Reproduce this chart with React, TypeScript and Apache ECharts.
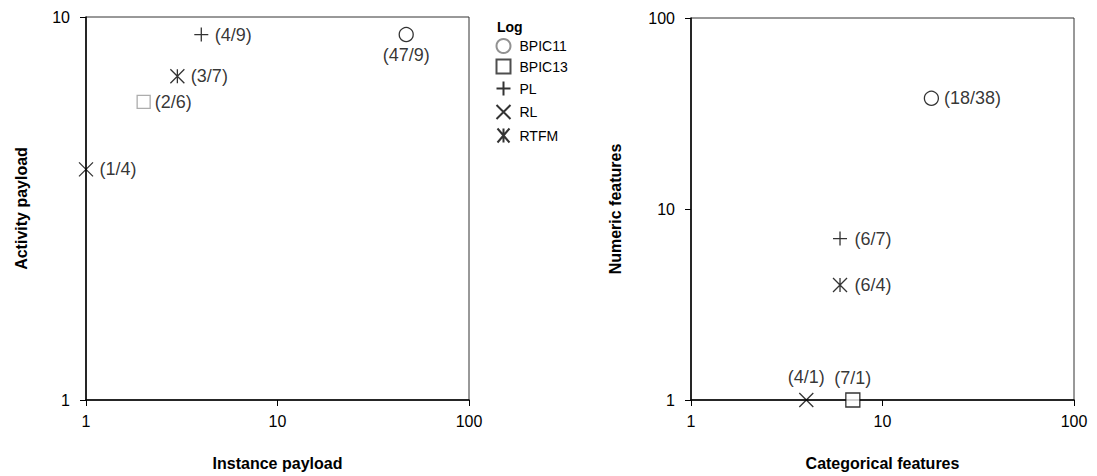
import React, { useEffect, useRef } from "react";
import * as echarts from "echarts";

const logs = ["BPIC11", "BPIC13", "PL", "RL", "RTFM"];
const instancePayload = [47, 2, 4, 1, 3];
const activityPayload = [9, 6, 9, 4, 7];
const categoricalFeatures = [18, 7, 6, 4, 6];
const numericFeatures = [38, 1, 7, 1, 4];
const leftYRange = [1, 10];
const xRange = [1, 100];
const rightYRange = [1, 100];

const FONT = "'Liberation Sans', Arial, sans-serif";

const symbols = [
  "circle",
  "rect",
  "path://M0,7L14,7M7,0L7,14",
  "path://M0,0L14,14M14,0L0,14",
  "path://M1,0L13,14M13,0L1,14M7,0L7,14",
];
const symbolSizes = [14, 13, 14, 14, 14];
const leftColors = ["#000", "#999", "#000", "#000", "#000"];
const leftLabelPos = ["bottom", "right", "right", "right", "right"];
const rightLabelPos = ["right", "top", "right", "top", "right"];

export default function App() {
  const ref = useRef<HTMLDivElement>(null);
  useEffect(() => {
    if (!ref.current) return;
    const chart = echarts.init(ref.current, null, { renderer: "svg" });

    const axisCommon = (name: string, range: number[], isY: boolean, gap: number) => ({
      type: "log",
      logBase: 10,
      min: range[0],
      max: range[1],
      name,
      nameLocation: "middle",
      nameGap: gap,
      nameTextStyle: { fontFamily: FONT, fontSize: 16, fontWeight: "bold", color: "#000" },
      axisLine: { show: true, onZero: false, lineStyle: { color: "#000", width: 1.5 } },
      axisTick: { show: true, length: 6, lineStyle: { color: "#000", width: 1 } },
      minorTick: { show: false },
      splitLine: { show: false },
      axisLabel: { fontFamily: FONT, fontSize: 16, color: "#000", margin: isY ? 16 : 13 },
    });

    const series: any[] = [];
    logs.forEach((name, i) => {
      series.push({
        type: "scatter",
        name,
        xAxisIndex: 1,
        yAxisIndex: 1,
        symbol: symbols[i],
        symbolSize: i === 1 ? 14 : symbolSizes[i],
        clip: false,
        z: 5,
        itemStyle: {
          color: i < 2 ? "#fff" : "none",
          borderColor: "#000",
          borderWidth: 1.3,
        },
        label: {
          show: true,
          position: rightLabelPos[i],
          distance: 5,
          fontFamily: FONT,
          fontSize: 18,
          color: "#000",
          formatter: () => `(${categoricalFeatures[i]}/${numericFeatures[i]})`,
        },
        data: [[categoricalFeatures[i], numericFeatures[i]]],
      });
    });
    logs.forEach((name, i) => {
      series.push({
        type: "scatter",
        name,
        xAxisIndex: 0,
        yAxisIndex: 0,
        symbol: symbols[i],
        symbolSize: symbolSizes[i],
        clip: false,
        z: 5,
        itemStyle: {
          color: i < 2 ? "#fff" : "none",
          borderColor: leftColors[i],
          borderWidth: 1.3,
        },
        label: {
          show: true,
          position: leftLabelPos[i],
          distance: 4,
          fontFamily: FONT,
          fontSize: 18,
          color: "#000",
          formatter: () => `(${instancePayload[i]}/${activityPayload[i]})`,
        },
        data: [[instancePayload[i], activityPayload[i]]],
      });
    });

    chart.setOption({
      animation: false,
      textStyle: { fontFamily: FONT },
      grid: [
        { left: 86, right: 628, top: 17, bottom: 75, show: true, borderColor: "#333", borderWidth: 1, backgroundColor: "transparent" },
        { left: 691, right: 23, top: 18, bottom: 75, show: true, borderColor: "#333", borderWidth: 1, backgroundColor: "transparent" },
      ],
      xAxis: [
        { ...axisCommon("Instance payload", xRange, false, 55), gridIndex: 0 },
        { ...axisCommon("Categorical features", xRange, false, 55), gridIndex: 1 },
      ],
      yAxis: [
        { ...axisCommon("Activity payload", leftYRange, true, 57), gridIndex: 0 },
        { ...axisCommon("Numeric features", rightYRange, true, 68), gridIndex: 1 },
      ],
      legend: {
        orient: "vertical",
        left: 489,
        top: 33,
        itemWidth: 14,
        itemHeight: 14,
        itemGap: 4.5,
        textStyle: { fontFamily: FONT, fontSize: 14, color: "#000", padding: [0, 0, 0, 4] },
        data: [
          { name: "BPIC11", itemStyle: { borderColor: "#777", color: "#fff" } },
          { name: "BPIC13", itemStyle: { borderColor: "#222", color: "#fff" } },
          { name: "PL" },
          { name: "RL" },
          { name: "RTFM" },
        ],
      },
      graphic: [
        {
          type: "text",
          left: 497,
          top: 20,
          style: { text: "Log", font: `bold 14px ${FONT}`, fill: "#000" },
        },
      ],
      series,
    });
    return () => chart.dispose();
  }, []);
  return (
    <div
      ref={ref}
      style={{ position: "fixed", left: 0, top: 0, width: 1097, height: 476, background: "#fff" }}
    />
  );
}
